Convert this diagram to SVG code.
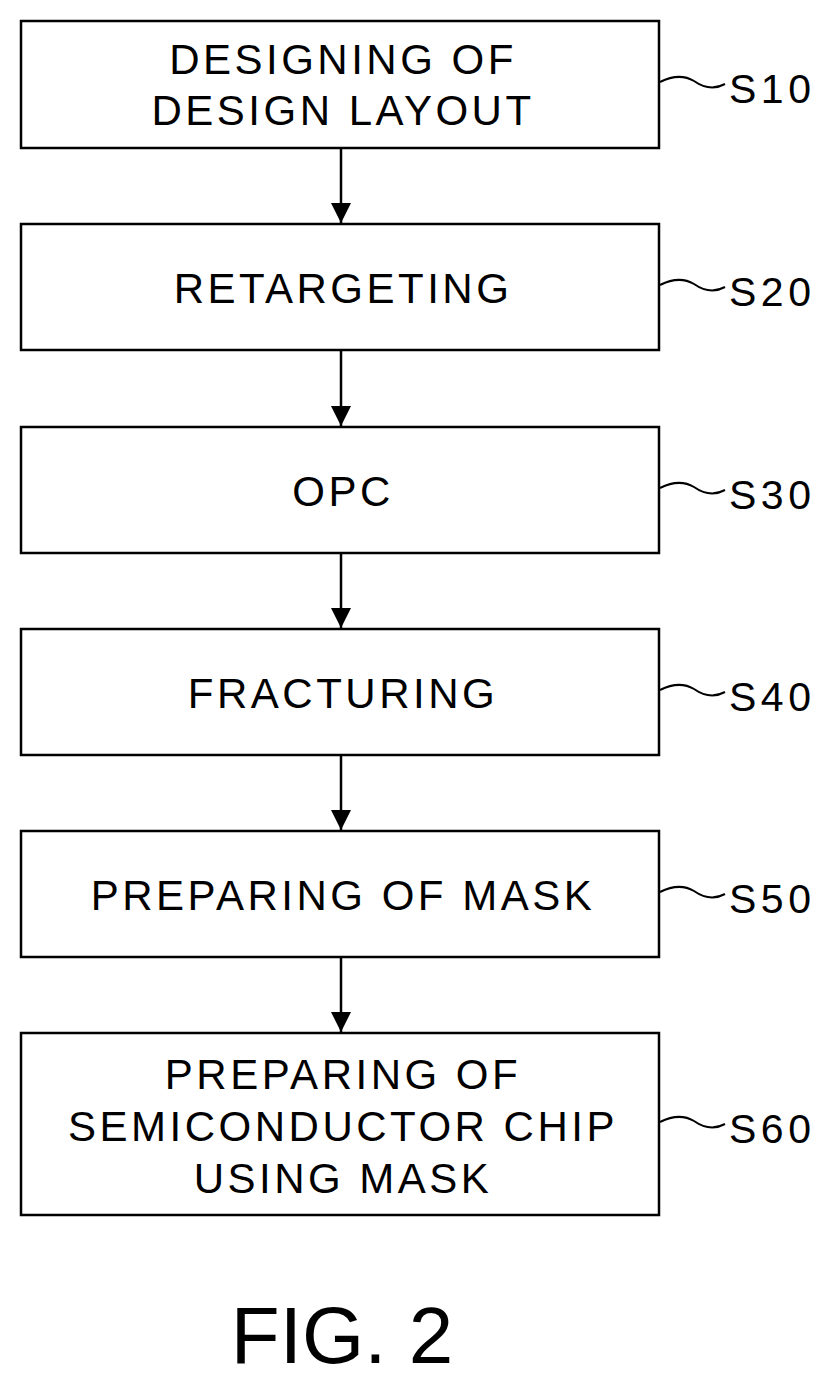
<svg xmlns="http://www.w3.org/2000/svg" width="832" height="1383" viewBox="0 0 832 1383">
<style>
.b{fill:#fff;stroke:#000;stroke-width:2.5}
.t{font-family:"Liberation Sans",Arial,sans-serif;font-size:42px;letter-spacing:3.5px;text-anchor:middle;fill:#000}
.l{font-family:"Liberation Sans",Arial,sans-serif;font-size:41px;letter-spacing:4.5px;fill:#000}
.w{fill:none;stroke:#000;stroke-width:2}
</style>
<defs>
<marker id="m" viewBox="0 0 20 20" refX="20" refY="10" markerWidth="20" markerHeight="20" orient="auto" markerUnits="userSpaceOnUse"><path d="M0,0L20,10L0,20z"/></marker></defs>
<rect width="832" height="1383" fill="#fff"/>
<g id="connectors">
<line x1="341" y1="149" x2="341" y2="223" stroke="#000" stroke-width="2.5" marker-end="url(#m)"/>
<line x1="341" y1="351" x2="341" y2="426" stroke="#000" stroke-width="2.5" marker-end="url(#m)"/>
<line x1="341" y1="554" x2="341" y2="628" stroke="#000" stroke-width="2.5" marker-end="url(#m)"/>
<line x1="341" y1="756" x2="341" y2="830" stroke="#000" stroke-width="2.5" marker-end="url(#m)"/>
<line x1="341" y1="958" x2="341" y2="1032" stroke="#000" stroke-width="2.5" marker-end="url(#m)"/>
</g>
<g id="s10"><rect class="b" x="21" y="21" width="638" height="127"/><text class="t" x="343" y="74">DESIGNING OF</text><text class="t" x="343" y="125">DESIGN LAYOUT</text>
<path class="w" d="M660,82 C672,76 684,75 694,81 C704,88 714,90 725,84"/><text class="l" x="729" y="103">S10</text></g>
<g id="s20"><rect class="b" x="21" y="224" width="638" height="126"/><text class="t" x="343" y="303">RETARGETING</text>
<path class="w" d="M660,285 C672,279 684,278 694,284 C704,291 714,293 725,287"/><text class="l" x="729" y="306">S20</text></g>
<g id="s30"><rect class="b" x="21" y="427" width="638" height="126"/><text class="t" x="343" y="506">OPC</text>
<path class="w" d="M660,488 C672,482 684,481 694,487 C704,494 714,496 725,490"/><text class="l" x="729" y="509">S30</text></g>
<g id="s40"><rect class="b" x="21" y="629" width="638" height="126"/><text class="t" x="343" y="708">FRACTURING</text>
<path class="w" d="M660,690 C672,684 684,683 694,689 C704,696 714,698 725,692"/><text class="l" x="729" y="711">S40</text></g>
<g id="s50"><rect class="b" x="21" y="831" width="638" height="126"/><text class="t" x="343" y="910">PREPARING OF MASK</text>
<path class="w" d="M660,892 C672,886 684,885 694,891 C704,898 714,900 725,894"/><text class="l" x="729" y="913">S50</text></g>
<g id="s60"><rect class="b" x="21" y="1033" width="638" height="182"/><text class="t" x="343" y="1089">PREPARING OF</text><text class="t" x="343" y="1141">SEMICONDUCTOR CHIP</text><text class="t" x="343" y="1193">USING MASK</text>
<path class="w" d="M660,1122 C672,1116 684,1115 694,1121 C704,1128 714,1130 725,1124"/><text class="l" x="729" y="1143">S60</text></g>
<text x="342" y="1363" font-family="Liberation Sans,Arial,sans-serif" font-size="80" text-anchor="middle">FIG. 2</text>
</svg>
